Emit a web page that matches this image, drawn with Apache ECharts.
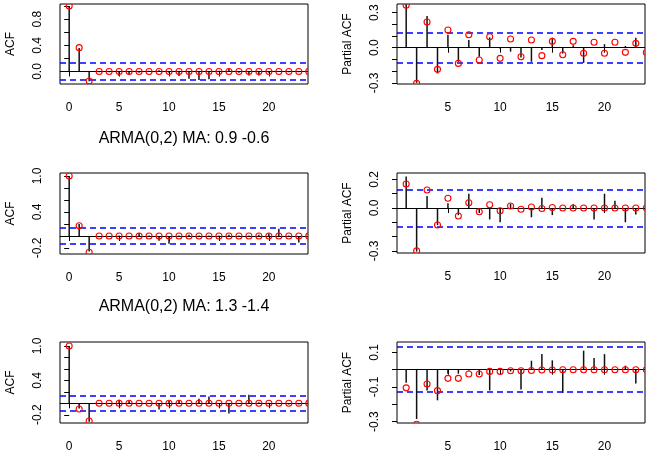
<!DOCTYPE html>
<html>
<head>
<meta charset="utf-8">
<script src="https://cdn.jsdelivr.net/npm/echarts@6/dist/echarts.min.js"></script>
<style>
  html, body { margin: 0; padding: 0; background: #fff; }
  #chart { width: 649px; height: 455px; }
</style>
</head>
<body>
<div id="chart"></div>
<script>
// ===== 数据：样本值（黑色竖线）与理论值（红圈） =====
// ACF 样本滞后 0..23，理论滞后 0..24；PACF 样本滞后 1..23，理论滞后 1..24

// 第一行（标题在图外）
const sampleAcf1 = [1.00, 0.36, -0.15, -0.01, -0.01, -0.07, -0.05, -0.02, 0.01, 0.02, -0.02, -0.07,
  -0.11, -0.13, -0.12, 0.01, 0.04, -0.02, -0.06, -0.06, -0.02, 0.00, -0.01, -0.01]
const theoAcf1 = [1.00, 0.364, -0.145, 0, 0, 0, 0, 0, 0, 0, 0, 0, 0, 0, 0, 0, 0, 0, 0, 0, 0, 0, 0, 0, 0]
const samplePacf1 = [0.37, -0.30, 0.27, -0.22, 0.11, -0.12, 0.065, -0.077, 0.088, -0.01, -0.034, -0.083,
  -0.12, -0.02, 0.085, -0.05, 0.02, -0.13, 0.00, 0.03, 0.00, 0.015, 0.085]
const theoPacf1 = [0.362, -0.305, 0.219, -0.185, 0.151, -0.134, 0.111, -0.105, 0.094, -0.091, 0.074, -0.077,
  0.066, -0.068, 0.054, -0.06, 0.054, -0.048, 0.046, -0.048, 0.046, -0.04, 0.037, -0.04]

// ARMA(0,2) MA: 0.9 -0.6
const sampleAcf2 = [1.00, 0.20, -0.26, -0.02, 0.00, 0.01, 0.00, 0.05, 0.01, -0.08, -0.13, 0.01,
  0.02, 0.01, 0.01, 0.01, 0.02, 0.01, 0.01, 0.02, 0.04, 0.12, 0.01, -0.11]
const theoAcf2 = [1.00, 0.17, -0.27, 0, 0, 0, 0, 0, 0, 0, 0, 0, 0, 0, 0, 0, 0, 0, 0, 0, 0, 0, 0, 0, 0]
const samplePacf2 = [0.22, -0.305, 0.084, -0.12, 0.033, -0.05, 0.10, -0.035, -0.08, -0.10, 0.03, 0.00,
  -0.065, 0.072, -0.05, 0.00, 0.026, 0.00, -0.08, 0.10, 0.05, -0.10, -0.045]
const theoPacf2 = [0.168, -0.30, 0.126, -0.119, 0.068, -0.056, 0.037, -0.026, 0.023, -0.019, 0.014, -0.009,
  0.007, -0.003, 0.003, 0, 0, 0, 0, 0, 0, 0, 0, 0]

// ARMA(0,2) MA: 1.3 -1.4
const sampleAcf3 = [1.00, -0.09, -0.32, 0.00, 0.00, 0.06, 0.04, 0.00, 0.00, -0.11, 0.04, 0.05,
  0.00, 0.08, 0.12, 0.00, -0.18, 0.00, 0.15, 0.02, 0.01, 0.00, -0.02, -0.02]
const theoAcf3 = [1.00, -0.10, -0.31, 0, 0, 0, 0, 0, 0, 0, 0, 0, 0, 0, 0, 0, 0, 0, 0, 0, 0, 0, 0, 0, 0]
const samplePacf3 = [-0.075, -0.285, -0.12, -0.177, -0.023, -0.023, -0.005, -0.03, -0.12, 0.00, -0.01, -0.115,
  0.052, 0.09, 0.054, -0.135, 0.00, 0.11, 0.067, 0.09, 0.00, 0.023, -0.08]
const theoPacf3 = [-0.105, -0.315, -0.083, -0.121, -0.05, -0.05, -0.025, -0.025, -0.01, -0.01, -0.006, -0.006,
  -0.005, -0.002, -0.002, 0, 0, 0, 0, 0, 0, 0, 0, 0]

// 置信界 ±1.96/sqrt(n)
const ciBound = 0.133

// 标题与刻度
const titles = ['ARMA(0,2) MA: 0.9 -0.6', 'ARMA(0,2) MA: 1.3 -1.4']
const acfXTicks = [0, 5, 10, 15, 20]
const pacfXTicks = [5, 10, 15, 20]
const yTicks = [
  [0, 0.2, 0.4, 0.6, 0.8, 1.0],
  [-0.3, -0.2, -0.1, 0, 0.1, 0.2, 0.3],
  [-0.2, 0, 0.2, 0.4, 0.6, 0.8, 1.0],
  [-0.3, -0.2, -0.1, 0, 0.1, 0.2],
  [-0.2, 0, 0.2, 0.4, 0.6, 0.8, 1.0],
  [-0.3, -0.2, -0.1, 0, 0.1],
]
const yLabels = [
  [0, 0.4, 0.8],
  [-0.3, 0, 0.3],
  [-0.2, 0.4, 1.0],
  [-0.3, 0, 0.2],
  [-0.2, 0.4, 1.0],
  [-0.3, -0.1, 0.1],
]

// ===== 布局 =====
const FONT = '"Liberation Sans", Arial, sans-serif'
const panels = [
  { kind: 'acf', sample: sampleAcf1, theo: theoAcf1, grid: { left: 60, top: 4, width: 248, height: 80 }, y: [-0.191, 1.031] },
  { kind: 'pacf', sample: samplePacf1, theo: theoPacf1, grid: { left: 397, top: 4, width: 248, height: 80 }, y: [-0.31, 0.373] },
  { kind: 'acf', sample: sampleAcf2, theo: theoAcf2, grid: { left: 60, top: 173, width: 248, height: 81 }, y: [-0.30, 1.05] },
  { kind: 'pacf', sample: samplePacf2, theo: theoPacf2, grid: { left: 397, top: 173, width: 248, height: 80 }, y: [-0.315, 0.245] },
  { kind: 'acf', sample: sampleAcf3, theo: theoAcf3, grid: { left: 60, top: 342, width: 248, height: 81 }, y: [-0.344, 1.07] },
  { kind: 'pacf', sample: samplePacf3, theo: theoPacf3, grid: { left: 397, top: 342, width: 248, height: 81 }, y: [-0.308, 0.16] },
]

function stemItem(params, api) {
  const top = api.coord([api.value(0), api.value(1)])
  const base = api.coord([api.value(0), 0])
  return {
    type: 'line',
    shape: { x1: base[0], y1: base[1], x2: top[0], y2: top[1] },
    style: { stroke: '#111', lineWidth: 1.5 },
  }
}

function circleItem(params, api) {
  const p = api.coord([api.value(0), api.value(1)])
  return {
    type: 'circle',
    shape: { cx: p[0], cy: p[1], r: 3 },
    style: { fill: 'none', stroke: '#ff0000', lineWidth: 1.1 },
  }
}

const grids = []
const xAxes = []
const yAxes = []
const series = []

panels.forEach((p, i) => {
  const isAcf = p.kind === 'acf'
  const lag0 = isAcf ? 0 : 1
  grids.push({ ...p.grid, show: true, borderColor: '#000', borderWidth: 1, backgroundColor: 'transparent' })
  const xTicks = isAcf ? acfXTicks : pacfXTicks
  xAxes.push({
    type: 'value',
    gridIndex: i,
    min: isAcf ? -0.92 : 0.12,
    max: isAcf ? 23.92 : 23.88,
    axisLine: { show: false },
    splitLine: { show: false },
    axisTick: { show: true, length: 5, lineStyle: { color: '#000' }, customValues: xTicks },
    axisLabel: { show: true, customValues: xTicks, margin: 18, fontSize: 12, color: '#000', fontFamily: FONT },
  })
  yAxes.push({
    type: 'value',
    gridIndex: i,
    min: p.y[0],
    max: p.y[1],
    name: isAcf ? 'ACF' : 'Partial ACF',
    nameLocation: 'middle',
    nameGap: 43,
    nameTextStyle: { fontSize: 12, color: '#000', fontFamily: FONT },
    axisLine: { show: false },
    splitLine: { show: false },
    axisTick: { show: true, length: 5, lineStyle: { color: '#000' }, customValues: yTicks[i] },
    axisLabel: {
      show: true, rotate: 90, margin: 16, customValues: yLabels[i],
      fontSize: 12, color: '#000', fontFamily: FONT,
      formatter: (v) => Number(v).toFixed(1),
    },
  })
  series.push({
    type: 'custom',
    xAxisIndex: i,
    yAxisIndex: i,
    clip: true,
    silent: true,
    renderItem: stemItem,
    data: p.sample.map((v, k) => [k + lag0, v]),
    markLine: {
      silent: true,
      symbol: 'none',
      animation: false,
      label: { show: false },
      data: [
        { yAxis: 0, lineStyle: { color: '#000', width: 1, type: 'solid' } },
        { yAxis: ciBound, lineStyle: { color: '#0000ff', width: 1.5, type: [6, 4] } },
        { yAxis: -ciBound, lineStyle: { color: '#0000ff', width: 1.5, type: [6, 4] } },
      ],
    },
  })
  series.push({
    type: 'custom',
    xAxisIndex: i,
    yAxisIndex: i,
    clip: true,
    silent: true,
    z: 5,
    renderItem: circleItem,
    data: p.theo.map((v, k) => [k + lag0, v]),
  })
})

const chart = echarts.init(document.getElementById('chart'), null, { renderer: 'canvas' })
chart.setOption({
  animation: false,
  backgroundColor: '#fff',
  title: [
    { text: titles[0], left: 184, top: 131, padding: 0, textAlign: 'center',
      textStyle: { fontSize: 16, fontWeight: 'normal', color: '#000', fontFamily: FONT } },
    { text: titles[1], left: 184, top: 299, padding: 0, textAlign: 'center',
      textStyle: { fontSize: 16, fontWeight: 'normal', color: '#000', fontFamily: FONT } },
  ],
  grid: grids,
  xAxis: xAxes,
  yAxis: yAxes,
  series: series,
})
</script>
</body>
</html>
